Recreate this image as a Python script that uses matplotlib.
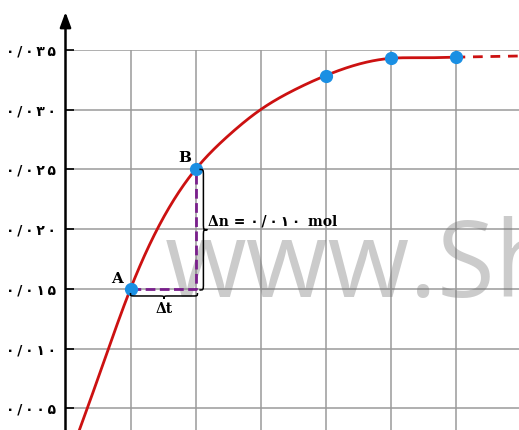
import numpy as np
import matplotlib
matplotlib.use("Agg")
import matplotlib.pyplot as plt
from matplotlib.path import Path
from matplotlib.patches import PathPatch

# amount of product (mol) against time
t_curve = [0, 0.5, 1, 1.5, 2, 2.5, 3, 3.5, 4, 4.5, 5, 5.5, 6]
n_curve = [0.0, 0.0075, 0.0150, 0.0209, 0.0250, 0.0278, 0.0300, 0.0316,
           0.03285, 0.0338, 0.0343, 0.03435, 0.0344]

# flat tail after the reaction stops
t_tail = [6, 7]
n_tail = [0.0344, 0.0345]

# marked points (A, B and the last three readings)
t_pts = [1, 2, 4, 5, 6]
n_pts = [n_curve[t_curve.index(t)] for t in t_pts]

y_ticks = [0.005, 0.010, 0.015, 0.020, 0.025, 0.030, 0.035]
y_labels = ['۰/۰۰۵', '۰/۰۱۰', '۰/۰۱۵', '۰/۰۲۰', '۰/۰۲۵', '۰/۰۳۰', '۰/۰۳۵']
dn_label = 'Δn = ۰/۰۱۰ mol'

RED = '#cc1111'
BLUE = '#1a8fe3'
PURPLE = '#7a1f8c'
GRID = '#9a9a9a'
THIN = '\u2009'


def spaced(s):
    # Persian digits sit further apart in the printed labels
    out = ''
    for ch in s:
        out += ch + (THIN if ch in '۰۱۲۳۴۵۶۷۸۹/' else '')
    return out.rstrip(THIN)


def spline(x, y, xs):
    # natural cubic spline so the line runs smoothly through the readings
    x = np.asarray(x, float)
    y = np.asarray(y, float)
    n = len(x)
    h = np.diff(x)
    A = np.zeros((n, n))
    b = np.zeros(n)
    A[0, 0] = A[-1, -1] = 1
    for i in range(1, n - 1):
        A[i, i - 1] = h[i - 1]
        A[i, i] = 2 * (h[i - 1] + h[i])
        A[i, i + 1] = h[i]
        b[i] = 3 * ((y[i + 1] - y[i]) / h[i] - (y[i] - y[i - 1]) / h[i - 1])
    c = np.linalg.solve(A, b)
    bb = np.diff(y) / h - h * (2 * c[:-1] + c[1:]) / 3
    d = np.diff(c) / (3 * h)
    i = np.clip(np.searchsorted(x, xs) - 1, 0, n - 2)
    dx = xs - x[i]
    return y[i] + bb[i] * dx + c[i] * dx**2 + d[i] * dx**3


fig = plt.figure(figsize=(5.19, 4.30), dpi=100)
ax = fig.add_axes([65.5 / 519, 0, 453.5 / 519, 380 / 430])
ax.set_xlim(0, 453.5 / 65)
ax.set_ylim(0.035 - 380 / 59.7 * 0.005, 0.035)

for s in ax.spines.values():
    s.set_visible(False)

ax.set_xticks(range(1, 7))
ax.set_yticks(y_ticks)
ax.set_yticklabels([spaced(l) for l in y_labels], family=['DejaVu Sans'],
                   fontweight='bold', fontsize=10)
ax.tick_params(axis='x', length=0, labelbottom=False)
ax.tick_params(axis='y', direction='in', length=6, width=1.2, color='black', pad=7)
ax.grid(True, color=GRID, lw=1.1)
ax.set_axisbelow(True)

# y axis with arrow head
ax.annotate('', xy=(0, 1.1), xytext=(0, 0), xycoords='axes fraction',
            arrowprops=dict(arrowstyle='-|>,head_length=0.9,head_width=0.33',
                            color='black', lw=1.8, shrinkA=0, shrinkB=0),
            annotation_clip=False)

ts = np.linspace(t_curve[0], t_curve[-1], 400)
ax.plot(ts, spline(t_curve, n_curve, ts), color=RED, lw=2, zorder=3)
ax.plot(t_tail, n_tail, color=RED, lw=2, ls=(0, (3.5, 2.8)), zorder=3)

# Δt and Δn construction between A and B
ax.plot([t_pts[0], t_pts[1], t_pts[1]], [n_pts[0], n_pts[0], n_pts[1]],
        color=PURPLE, lw=2, ls=(0, (3.5, 1.6)), zorder=3)

ax.plot(t_pts, n_pts, 'o', color=BLUE, ms=8.5, zorder=4)


def brace(x0, y0, x1, y1, depth):
    # curly brace in pixel space from (x0,y0) to (x1,y1), bulging by depth
    p0 = np.array(ax.transData.transform((x0, y0)))
    p1 = np.array(ax.transData.transform((x1, y1)))
    v = p1 - p0
    u = v / np.hypot(*v)
    n = np.array([-u[1], u[0]]) * depth
    q = depth * 0.8
    mid = p0 + v / 2
    verts = [p0,
             p0 + n * 0.5, p0 + n * 0.5, p0 + n * 0.5 + u * q,
             mid + n * 0.5 - u * q,
             mid + n * 0.5, mid + n * 0.5, mid + n,
             mid + n * 0.5, mid + n * 0.5, mid + n * 0.5 + u * q,
             p1 + n * 0.5 - u * q,
             p1 + n * 0.5, p1 + n * 0.5, p1]
    codes = [Path.MOVETO,
             Path.CURVE4, Path.CURVE4, Path.CURVE4,
             Path.LINETO,
             Path.CURVE4, Path.CURVE4, Path.CURVE4,
             Path.CURVE4, Path.CURVE4, Path.CURVE4,
             Path.LINETO,
             Path.CURVE4, Path.CURVE4, Path.CURVE4]
    verts = fig.transFigure.inverted().transform(np.array(verts))
    fig.add_artist(PathPatch(Path(verts, codes), transform=fig.transFigure, fill=False,
                             ec='black', lw=1.1, clip_on=False, zorder=5))


# vertical brace beside the Δn segment, horizontal one under Δt
brace(2.06, n_pts[1], 2.06, n_pts[0] - 0.0001, 8)
brace(t_pts[1] + 0.03, n_pts[0] - 0.00035, t_pts[0], n_pts[0] - 0.00035, 6)

serif = ['DejaVu Serif', 'DejaVu Sans']
ax.text(0.79, n_pts[0] + 0.00025, 'A', family=serif, fontweight='bold', fontsize=11,
        ha='center', va='bottom')
ax.text(1.84, n_pts[1] + 0.00035, 'B', family=serif, fontweight='bold', fontsize=11,
        ha='center', va='bottom')
ax.text(1.52, n_pts[0] - 0.0011, 'Δt', family=serif, fontweight='bold', fontsize=10,
        ha='center', va='top')
ax.text(2.2, 0.0206, spaced(dn_label), family=serif, fontweight='bold', fontsize=10,
        ha='left', va='center')

# site watermark across the middle of the plot
ax.text(1.53, 0.0143, 'www.Sh', family=['Open Sans'], fontsize=76, color='#777777',
        alpha=0.38, ha='left', va='baseline', zorder=2.5, clip_on=True)

fig.savefig('out.png', dpi=100)
